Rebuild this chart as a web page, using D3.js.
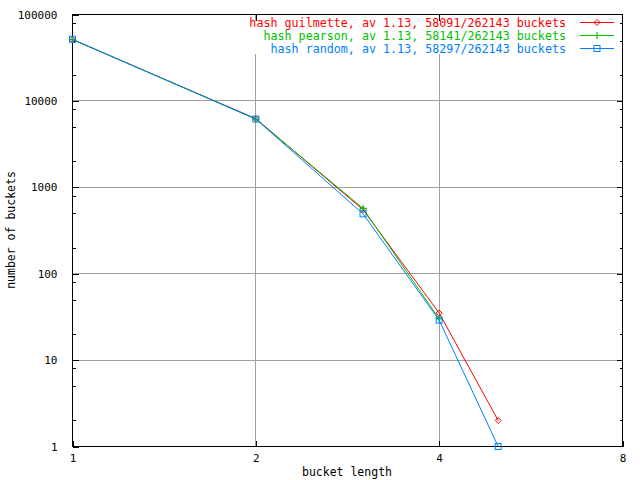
<!DOCTYPE html>
<html><head><meta charset="utf-8">
<script src="https://cdn.jsdelivr.net/npm/d3@7"></script>
<style>body{margin:0;background:#fff}svg{display:block}text{font-family:"DejaVu Sans Mono",monospace;font-size:11px}</style>
</head><body><svg id="c" width="640" height="480"></svg>
<script>
const bucketLength = [1, 2, 3, 4, 5];
const guilmette = [51272, 6232, 550, 35, 2];
const pearson = [51375, 6167, 569, 30];
const random = [51612, 6162, 493, 29, 1];
const seriesNames = [
  "hash guilmette, av 1.13, 58091/262143 buckets",
  "hash pearson, av 1.13, 58141/262143 buckets",
  "hash random, av 1.13, 58297/262143 buckets"
];
const xTicks = [1, 2, 4, 8];
const yTicks = [1, 10, 100, 1000, 10000, 100000];
const yMinor = [2,5,8,20,50,80,200,500,800,2000,5000,8000,20000,50000,80000];

const svg = d3.select("#c");
const L = 72.5, R = 622.5, T = 14.5, B = 446.5;
const x = d3.scaleLog().base(2).domain([1, 8]).range([L, R]);
const y = d3.scaleLog().domain([1, 100000]).range([B, T]);

// grid
const g = svg.append("g").attr("stroke", "#a0a0a0").attr("stroke-width", 1).attr("shape-rendering", "crispEdges");
xTicks.slice(1, -1).forEach(v => g.append("line").attr("x1", x(v)).attr("x2", x(v)).attr("y1", T).attr("y2", B));
yTicks.slice(1, -1).forEach(v => g.append("line").attr("x1", L).attr("x2", R).attr("y1", y(v)).attr("y2", y(v)));

// legend background clears grid
svg.append("rect").attr("x", 246).attr("y", 21).attr("width", 374).attr("height", 33).attr("fill", "#fff");

// axes
function styleAxis(sel) {
  sel.attr("shape-rendering", "crispEdges");
  sel.select(".domain").remove();
  sel.selectAll(".tick line").attr("stroke", "#000");
  sel.selectAll(".tick text").attr("fill", "#000").style("font-family", "DejaVu Sans Mono").style("font-size", "11px");
}
const fmt = d3.format("d");
svg.append("g").attr("transform", `translate(0,${B})`)
  .call(d3.axisBottom(x).tickValues(xTicks).tickFormat(fmt).tickSize(-6).tickPadding(8)).call(styleAxis);
svg.append("g").attr("transform", `translate(0,${T})`)
  .call(d3.axisTop(x).tickValues(xTicks.slice(1, -1)).tickFormat("").tickSize(-6)).call(styleAxis);
svg.append("g").attr("transform", `translate(${L},0)`)
  .call(d3.axisLeft(y).tickValues(yTicks).tickFormat(fmt).tickSize(-6).tickPadding(15)).call(styleAxis);
svg.append("g").attr("transform", `translate(${L},0)`)
  .call(d3.axisLeft(y).tickValues(yMinor).tickFormat("").tickSize(-3)).call(styleAxis);
svg.append("g").attr("transform", `translate(${R},0)`)
  .call(d3.axisRight(y).tickValues(yTicks.slice(1, -1)).tickFormat("").tickSize(-6)).call(styleAxis);
svg.append("g").attr("transform", `translate(${R},0)`)
  .call(d3.axisRight(y).tickValues(yMinor).tickFormat("").tickSize(-3)).call(styleAxis);

// border
svg.append("rect").attr("x", L).attr("y", T).attr("width", R - L).attr("height", B - T)
  .attr("fill", "none").attr("stroke", "#000").attr("shape-rendering", "crispEdges");

// axis titles
svg.append("text").attr("x", 347).attr("y", 476).attr("text-anchor", "middle").style("font-size", "11.5px").text("bucket length");
svg.append("text").attr("transform", "translate(15,230) rotate(-90)").attr("text-anchor", "middle").style("font-size", "11.5px").text("number of buckets");

const series = [
  { name: seriesNames[0], vals: guilmette, color: "#ff0000", mark: "diamond" },
  { name: seriesNames[1], vals: pearson, color: "#00c000", mark: "plus" },
  { name: seriesNames[2], vals: random, color: "#0080ff", mark: "square" }
];
function marker(sel, type, cx, cy, color) {
  if (type === "diamond") {
    sel.append("path").attr("d", `M${cx},${cy-3}L${cx+3},${cy}L${cx},${cy+3}L${cx-3},${cy}Z`)
      .attr("fill", "none").attr("stroke", color);
  } else if (type === "plus") {
    sel.append("path").attr("d", `M${cx-3.5},${cy}H${cx+3.5}M${cx},${cy-3.5}V${cy+3.5}`)
      .attr("stroke", color).attr("stroke-width", 1.2);
  } else {
    sel.append("rect").attr("x", cx - 3).attr("y", cy - 3).attr("width", 6).attr("height", 6)
      .attr("fill", "none").attr("stroke", color);
  }
}
const line = d3.line().x((d, i) => x(bucketLength[i])).y(d => y(d));
series.forEach((s, k) => {
  const gg = svg.append("g");
  gg.append("path").datum(s.vals).attr("d", line).attr("fill", "none").attr("stroke", s.color).attr("stroke-width", 1);
  s.vals.forEach((v, i) => marker(gg, s.mark, x(bucketLength[i]), y(v), s.color));
  const ly = 22.5 + k * 13;
  svg.append("text").attr("x", 566).attr("y", ly).attr("dy", "0.35em").attr("text-anchor", "end")
    .style("font-size", "11.7px").attr("fill", s.color).text(s.name);
  gg.append("line").attr("x1", 580).attr("x2", 614).attr("y1", ly).attr("y2", ly).attr("stroke", s.color);
  marker(gg, s.mark, 597, ly, s.color);
});
</script></body></html>
